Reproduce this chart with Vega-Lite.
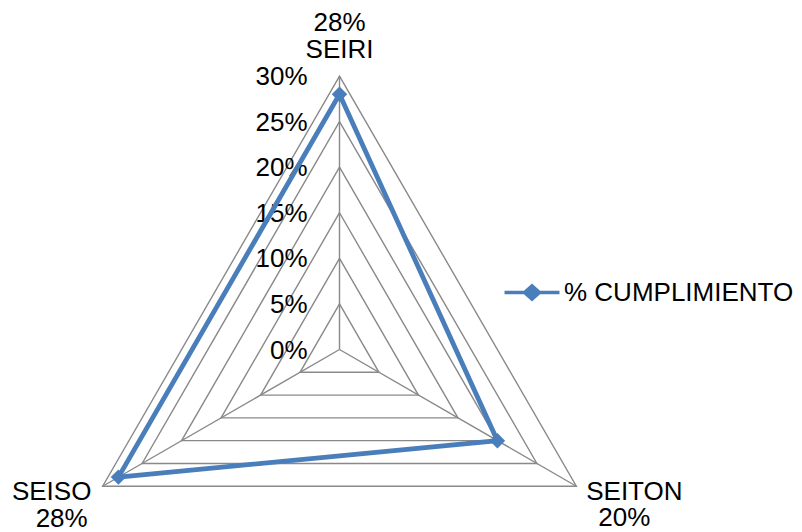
{
  "$schema": "https://vega.github.io/schema/vega-lite/v6.json",
  "width": 802,
  "height": 532,
  "padding": 0,
  "autosize": {"type": "none"},
  "background": "white",
  "config": {
    "view": {"stroke": null},
    "font": "Liberation Sans",
    "text": {"font": "Liberation Sans", "fontSize": 26, "color": "#000000"}
  },
  "datasets": {
    "series": [
      {"serie": "% CUMPLIMIENTO", "cat": "SEIRI", "val": 0.28, "a": 0},
      {"serie": "% CUMPLIMIENTO", "cat": "SEITON", "val": 0.20, "a": 120},
      {"serie": "% CUMPLIMIENTO", "cat": "SEISO", "val": 0.28, "a": 240}
    ],
    "grid": [
      {"lvl": 0.05, "a": 0}, {"lvl": 0.05, "a": 120}, {"lvl": 0.05, "a": 240},
      {"lvl": 0.10, "a": 0}, {"lvl": 0.10, "a": 120}, {"lvl": 0.10, "a": 240},
      {"lvl": 0.15, "a": 0}, {"lvl": 0.15, "a": 120}, {"lvl": 0.15, "a": 240},
      {"lvl": 0.20, "a": 0}, {"lvl": 0.20, "a": 120}, {"lvl": 0.20, "a": 240},
      {"lvl": 0.25, "a": 0}, {"lvl": 0.25, "a": 120}, {"lvl": 0.25, "a": 240},
      {"lvl": 0.30, "a": 0}, {"lvl": 0.30, "a": 120}, {"lvl": 0.30, "a": 240}
    ],
    "levels": [
      {"lvl": 0.00}, {"lvl": 0.05}, {"lvl": 0.10}, {"lvl": 0.15},
      {"lvl": 0.20}, {"lvl": 0.25}, {"lvl": 0.30}
    ]
  },
  "layer": [
    {
      "data": {"name": "grid"},
      "transform": [
        {"calculate": "datum.lvl * sin(datum.a * PI / 180)", "as": "gx"},
        {"calculate": "datum.lvl * cos(datum.a * PI / 180)", "as": "gy"}
      ],
      "mark": {"type": "line", "color": "#898989", "strokeWidth": 1.4, "interpolate": "linear-closed"},
      "encoding": {
        "x": {"field": "gx", "type": "quantitative", "axis": null, "scale": {"domain": [-0.3724, 0.5073], "nice": false, "zero": false}},
        "y": {"field": "gy", "type": "quantitative", "axis": null, "scale": {"domain": [-0.2002, 0.3834], "nice": false, "zero": false}},
        "detail": {"field": "lvl"},
        "order": {"field": "a", "type": "quantitative"}
      }
    },
    {
      "data": {"name": "series"},
      "transform": [
        {"calculate": "0.3 * sin(datum.a * PI / 180)", "as": "sx"},
        {"calculate": "0.3 * cos(datum.a * PI / 180)", "as": "sy"}
      ],
      "mark": {"type": "rule", "color": "#898989", "strokeWidth": 1.4},
      "encoding": {
        "x": {"field": "sx", "type": "quantitative"},
        "y": {"field": "sy", "type": "quantitative"},
        "x2": {"datum": 0},
        "y2": {"datum": 0}
      }
    },
    {
      "data": {"name": "levels"},
      "mark": {"type": "text", "align": "right", "baseline": "middle", "dx": -32, "dy": 1},
      "encoding": {
        "x": {"datum": 0, "type": "quantitative"},
        "y": {"field": "lvl", "type": "quantitative"},
        "text": {"field": "lvl", "type": "quantitative", "format": ".0%"}
      }
    },
    {
      "data": {"name": "series"},
      "transform": [
        {"calculate": "datum.val * sin(datum.a * PI / 180)", "as": "px"},
        {"calculate": "datum.val * cos(datum.a * PI / 180)", "as": "py"}
      ],
      "mark": {"type": "line", "color": "#4A7EBB", "strokeWidth": 4.8, "interpolate": "linear-closed"},
      "encoding": {
        "x": {"field": "px", "type": "quantitative"},
        "y": {"field": "py", "type": "quantitative"},
        "order": {"field": "a", "type": "quantitative"}
      }
    },
    {
      "data": {"name": "series"},
      "transform": [
        {"calculate": "datum.val * sin(datum.a * PI / 180)", "as": "px"},
        {"calculate": "datum.val * cos(datum.a * PI / 180)", "as": "py"}
      ],
      "mark": {"type": "point", "shape": "diamond", "filled": true, "size": 240, "opacity": 1},
      "encoding": {
        "x": {"field": "px", "type": "quantitative"},
        "y": {"field": "py", "type": "quantitative"},
        "color": {
          "field": "serie", "type": "nominal",
          "scale": {"range": ["#4A7EBB"]},
          "legend": {
            "title": null,
            "orient": "none",
            "legendX": 519,
            "legendY": 279.5,
            "padding": 0,
            "symbolType": "M-5.5,-0.33H5.5V0.33H-5.5Z M0,-1.8L2.0,0L0,1.8L-2.0,0Z",
            "symbolSize": 100,
            "symbolStrokeWidth": 0,
            "symbolOpacity": 1,
            "labelFontSize": 26,
            "labelFont": "Liberation Sans",
            "labelColor": "#000000",
            "labelOffset": 19,
            "labelLimit": 400
          }
        }
      }
    },
    {
      "data": {"name": "series"},
      "transform": [
        {"filter": "datum.cat == 'SEIRI'"},
        {"calculate": "0.3 * sin(datum.a * PI / 180)", "as": "sx"},
        {"calculate": "0.3 * cos(datum.a * PI / 180)", "as": "sy"}
      ],
      "mark": {"type": "text", "align": "center", "baseline": "middle", "dy": -26},
      "encoding": {
        "x": {"field": "sx", "type": "quantitative"},
        "y": {"field": "sy", "type": "quantitative"},
        "text": {"field": "cat", "type": "nominal"}
      }
    },
    {
      "data": {"name": "series"},
      "transform": [
        {"filter": "datum.cat == 'SEIRI'"},
        {"calculate": "0.3 * sin(datum.a * PI / 180)", "as": "sx"},
        {"calculate": "0.3 * cos(datum.a * PI / 180)", "as": "sy"}
      ],
      "mark": {"type": "text", "align": "center", "baseline": "middle", "dy": -53},
      "encoding": {
        "x": {"field": "sx", "type": "quantitative"},
        "y": {"field": "sy", "type": "quantitative"},
        "text": {"field": "val", "type": "quantitative", "format": ".0%"}
      }
    },
    {
      "data": {"name": "series"},
      "transform": [
        {"filter": "datum.cat == 'SEITON'"},
        {"calculate": "0.3 * sin(datum.a * PI / 180)", "as": "sx"},
        {"calculate": "0.3 * cos(datum.a * PI / 180)", "as": "sy"}
      ],
      "mark": {"type": "text", "align": "center", "baseline": "middle", "dx": 58, "dy": 6},
      "encoding": {
        "x": {"field": "sx", "type": "quantitative"},
        "y": {"field": "sy", "type": "quantitative"},
        "text": {"field": "cat", "type": "nominal"}
      }
    },
    {
      "data": {"name": "series"},
      "transform": [
        {"filter": "datum.cat == 'SEITON'"},
        {"calculate": "0.3 * sin(datum.a * PI / 180)", "as": "sx"},
        {"calculate": "0.3 * cos(datum.a * PI / 180)", "as": "sy"}
      ],
      "mark": {"type": "text", "align": "center", "baseline": "middle", "dx": 48, "dy": 32},
      "encoding": {
        "x": {"field": "sx", "type": "quantitative"},
        "y": {"field": "sy", "type": "quantitative"},
        "text": {"field": "val", "type": "quantitative", "format": ".0%"}
      }
    },
    {
      "data": {"name": "series"},
      "transform": [
        {"filter": "datum.cat == 'SEISO'"},
        {"calculate": "0.3 * sin(datum.a * PI / 180)", "as": "sx"},
        {"calculate": "0.3 * cos(datum.a * PI / 180)", "as": "sy"}
      ],
      "mark": {"type": "text", "align": "center", "baseline": "middle", "dx": -51, "dy": 6},
      "encoding": {
        "x": {"field": "sx", "type": "quantitative"},
        "y": {"field": "sy", "type": "quantitative"},
        "text": {"field": "cat", "type": "nominal"}
      }
    },
    {
      "data": {"name": "series"},
      "transform": [
        {"filter": "datum.cat == 'SEISO'"},
        {"calculate": "0.3 * sin(datum.a * PI / 180)", "as": "sx"},
        {"calculate": "0.3 * cos(datum.a * PI / 180)", "as": "sy"}
      ],
      "mark": {"type": "text", "align": "center", "baseline": "middle", "dx": -41, "dy": 33},
      "encoding": {
        "x": {"field": "sx", "type": "quantitative"},
        "y": {"field": "sy", "type": "quantitative"},
        "text": {"field": "val", "type": "quantitative", "format": ".0%"}
      }
    }
  ]
}
